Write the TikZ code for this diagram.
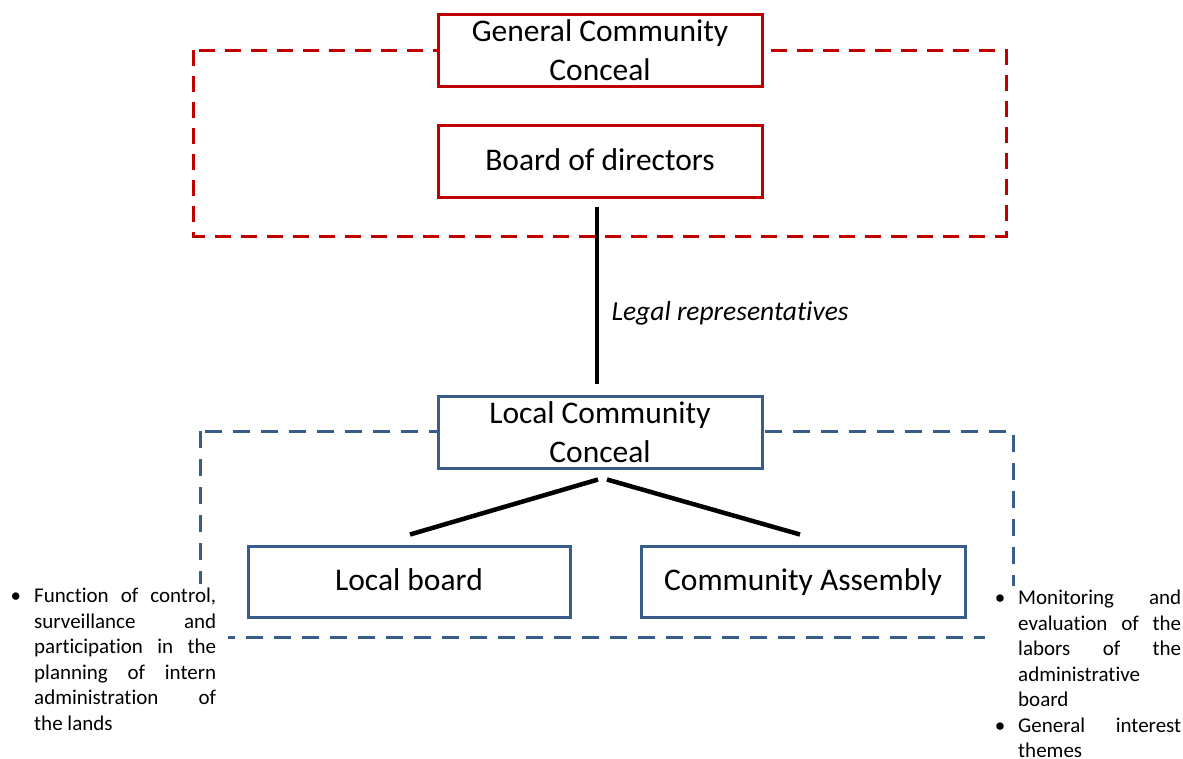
\documentclass[tikz,border=0pt]{standalone}
\usepackage{fontspec}
\setmainfont{Carlito}[RawFeature={-liga;-clig;-dlig;-calt;-rlig}]
\definecolor{dred}{HTML}{C00000}
\definecolor{dblue}{HTML}{385D8A}
\newcommand{\bul}{\leavevmode\llap{\textbullet\hspace{13pt}}}
\begin{document}
\begin{tikzpicture}[x=1pt,y=-1pt,
  redbox/.style={draw=dred, line width=3pt, fill=white, minimum width=324pt, minimum height=72pt, align=center, inner sep=0pt, font=\fontsize{31.5}{39}\selectfont},
  bluebox/.style={draw=dblue, line width=3pt, fill=white, minimum width=324pt, minimum height=71pt, align=center, inner sep=0pt, font=\fontsize{31.5}{39}\selectfont},
  oneline/.style={text height=22pt, text depth=4pt},
  reddash/.style={draw=dred, line width=3pt, dash pattern=on 16pt off 10pt},
  bluedash/.style={draw=dblue, line width=3pt, dash pattern=on 17pt off 11pt},
  link/.style={draw=black, line width=4.5pt},
  note/.style={fill=white, inner xsep=12pt, inner ysep=4pt, align=justify, font=\fontsize{21}{25.5}\selectfont}
]
\useasboundingbox (0,0) rectangle (1183,758);
% group frames
\draw[reddash] (193,50) rectangle (1006,236);
\draw[bluedash] (200,431) rectangle (1013,637);
% nodes
\node[redbox] (gcc) at (600,50) {General Community\\Conceal};
\node[redbox, oneline] (bod) at (600,161) {Board of directors};
\node[bluebox, minimum height=72pt] (lcc) at (600,432) {Local Community\\Conceal};
\node[bluebox, oneline, minimum width=322pt] (lb) at (409,581.5) {Local board};
\node[bluebox, oneline] (ca) at (803,581.5) {Community Assembly};
% connectors
\draw[link, shorten <=8pt, shorten >=11pt] ([xshift=-3pt]bod.south) -- ([xshift=-3pt]lcc.north);
\node[anchor=west, font=\itshape\fontsize{27.5}{33}\selectfont] (legal) at (608,313) {Legal representatives};
\draw[link] ([xshift=-2pt,yshift=-10pt]lcc.south) -- ([xshift=1pt,yshift=10pt]lb.north);
\draw[link] ([xshift=7pt,yshift=-10pt]lcc.south) -- ([xshift=-3pt,yshift=10pt]ca.north);
% notes
\node[note, text width=182pt, anchor=north west] (ln) at (22,584) {\bul Function of control,\linebreak surveillance and\linebreak participation in the\linebreak planning of intern\linebreak administration of\linebreak the lands};
\node[note, text width=163pt, anchor=north west, inner xsep=33pt] (rn) at (985,586) {\bul Monitoring and\linebreak evaluation of the\linebreak labors of the\linebreak administrative\newline board\par\bul General interest\linebreak themes};
\end{tikzpicture}
\end{document}
